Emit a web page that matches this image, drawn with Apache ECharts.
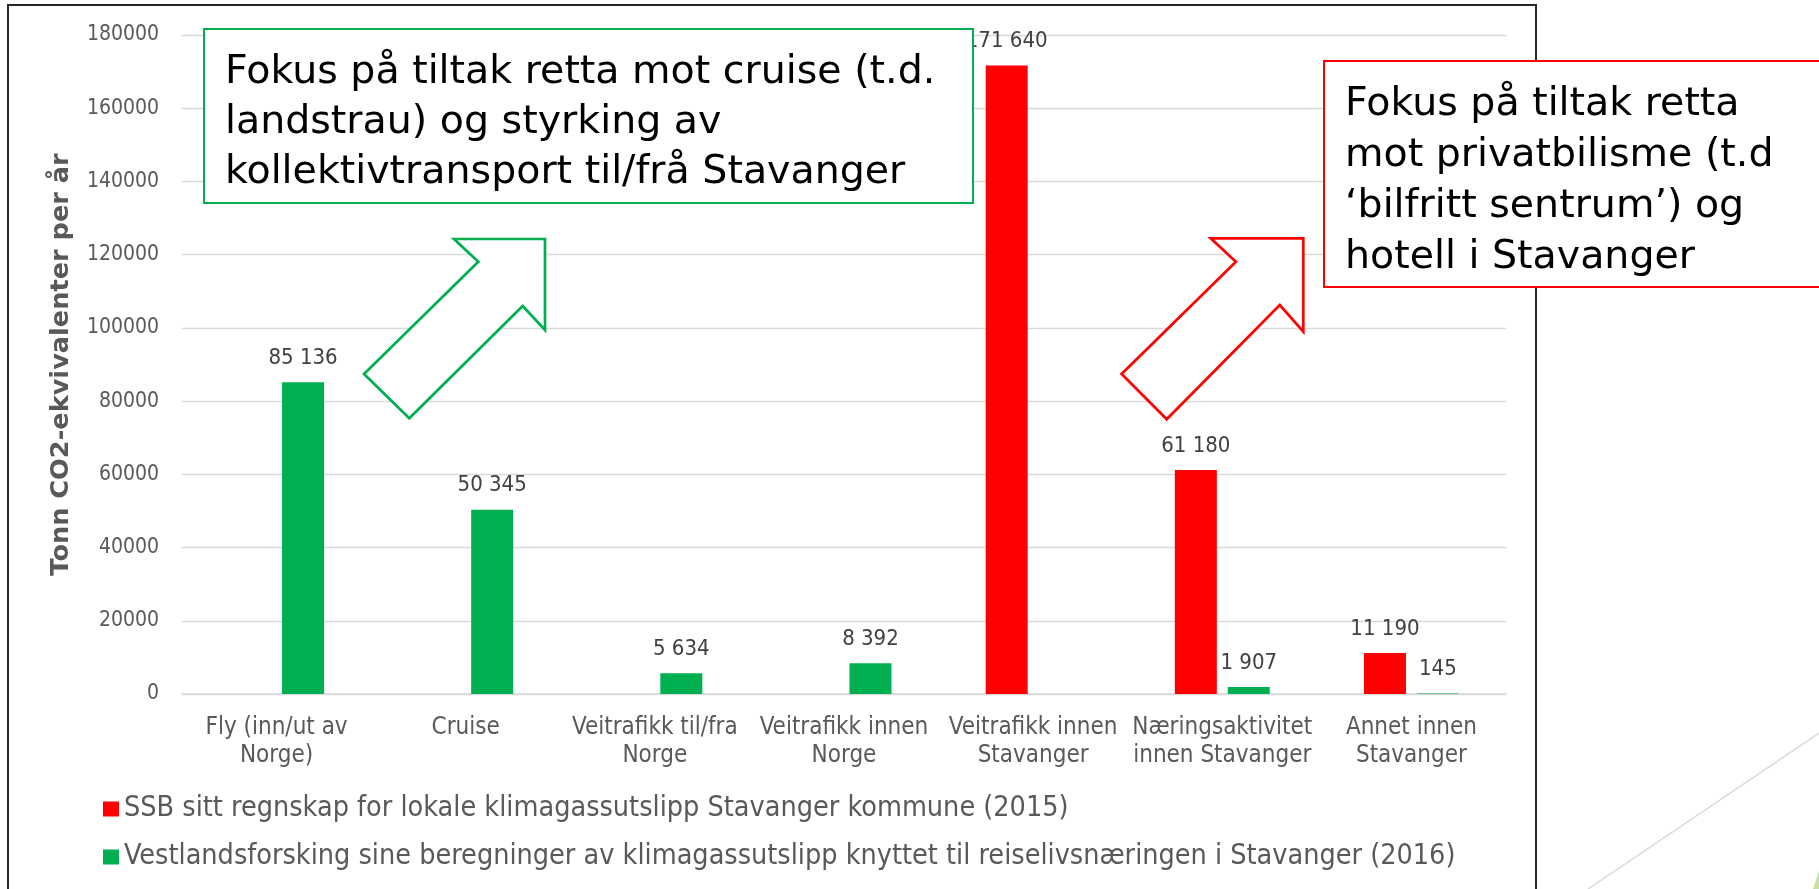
<!DOCTYPE html>
<html>
<head>
<meta charset="utf-8">
<script src="https://cdn.jsdelivr.net/npm/echarts@6/dist/echarts.min.js"></script>
<style>
  html, body { margin: 0; padding: 0; background: #fff; }
  #chart { width: 1819px; height: 889px; }
</style>
</head>
<body>
<div id="chart"></div>
<script>
// categories (line breaks as in the original axis labels)
const categories = [
  'Fly (inn/ut av\nNorge)',
  'Cruise',
  'Veitrafikk til/fra\nNorge',
  'Veitrafikk innen\nNorge',
  'Veitrafikk innen\nStavanger',
  'Næringsaktivitet\ninnen Stavanger',
  'Annet innen\nStavanger'
];
const ssbName = 'SSB sitt regnskap for lokale klimagassutslipp Stavanger kommune (2015)';
const vfName = 'Vestlandsforsking sine beregninger av klimagassutslipp knyttet til reiselivsnæringen i Stavanger (2016)';
const ssbValues = [null, null, null, null, 171640, 61180, 11190];
const vfValues = [85136, 50345, 5634, 8392, null, 1907, 145];
const yMin = 0;
const yMax = 180000;
const yStep = 20000;

const greenNote = 'Fokus på tiltak retta mot cruise (t.d.\nlandstrau) og styrking av\nkollektivtransport til/frå Stavanger';
const redNote = 'Fokus på tiltak retta\nmot privatbilisme (t.d\n‘bilfritt sentrum’) og\nhotell i Stavanger';

const FONT = '"DejaVu Sans Condensed", "DejaVu Sans", sans-serif';
const NOTE_FONT = '"DejaVu Sans", sans-serif';
const RED = '#ff0000';
const GREEN = '#00b050';

function spaced (v) {
  return String(v).replace(/\B(?=(\d{3})+(?!\d))/g, ' ');
}

const chart = echarts.init(document.getElementById('chart'));
window.addEventListener('resize', () => { chart.resize(); });

const barLabel = {
  show: true,
  position: 'top',
  distance: 13,
  color: '#404040',
  fontFamily: FONT,
  fontSize: 22,
  formatter: (p) => spaced(p.value)
};

chart.setOption({
  animation: false,
  color: [RED, GREEN],
  grid: { left: 182, right: 313, top: 35, bottom: 195 },
  legend: {
    orient: 'vertical',
    left: 98,
    top: 789,
    itemWidth: 16,
    itemHeight: 15,
    itemGap: 18,
    icon: 'rect',
    textStyle: { color: '#595959', fontFamily: FONT, fontSize: 28.5, lineHeight: 30 },
    data: [ssbName, vfName]
  },
  xAxis: {
    type: 'category',
    data: categories,
    axisTick: { show: false },
    axisLine: { show: true, lineStyle: { color: '#d9d9d9', width: 1.5 } },
    axisLabel: {
      interval: 0,
      margin: 19.5,
      color: '#595959',
      fontFamily: FONT,
      fontSize: 24,
      lineHeight: 28
    }
  },
  yAxis: {
    type: 'value',
    min: yMin,
    max: yMax,
    interval: yStep,
    name: 'Tonn CO2-ekvivalenter per år',
    nameLocation: 'middle',
    nameGap: 108,
    nameTextStyle: { color: '#595959', fontFamily: '"DejaVu Sans", sans-serif', fontWeight: 'bold', fontSize: 25.6 },
    axisLine: { show: false },
    axisTick: { show: false },
    splitLine: { lineStyle: { color: '#d9d9d9', width: 1.4 } },
    axisLabel: { margin: 23, color: '#595959', fontFamily: FONT, fontSize: 21, formatter: (v) => String(v) }
  },
  series: [
    {
      name: ssbName,
      type: 'bar',
      barWidth: 42,
      barGap: '26%',
      label: barLabel,
      data: ssbValues
    },
    {
      name: vfName,
      type: 'bar',
      barWidth: 42,
      barGap: '26%',
      label: barLabel,
      data: vfValues
    }
  ],
  graphic: [
    // slide frame
    { type: 'rect', z: 100, shape: { x: 8, y: 5, width: 1528, height: 900 },
      style: { fill: 'none', stroke: '#262626', lineWidth: 2 } },
    // slide decoration bottom right
    { type: 'line', z: 100, shape: { x1: 1588, y1: 889, x2: 1819, y2: 733 },
      style: { stroke: '#d9d9d9', lineWidth: 1.5 } },
    { type: 'polygon', z: 100, shape: { points: [[1813, 889], [1819, 871], [1819, 889]] },
      style: { fill: '#c5e0a5' } },
    // green note
    { type: 'rect', z: 101, shape: { x: 204, y: 29, width: 769, height: 174 },
      style: { fill: '#fff', stroke: GREEN, lineWidth: 2 } },
    { type: 'text', z: 102, x: 225, y: 48,
      style: { text: greenNote, fill: '#000', fontFamily: NOTE_FONT, fontSize: 39.5, lineHeight: 50, verticalAlign: 'top' } },
    { type: 'polygon', z: 101,
      shape: { points: [[364, 374], [478.3, 261.7], [454, 239], [545, 239], [545, 330], [522.7, 306], [409.3, 418.3]] },
      style: { fill: '#fff', stroke: GREEN, lineWidth: 2.7 } },
    // red note
    { type: 'rect', z: 101, shape: { x: 1324, y: 61, width: 520, height: 226 },
      style: { fill: '#fff', stroke: RED, lineWidth: 2 } },
    { type: 'text', z: 102, x: 1345, y: 79,
      style: { text: redNote, fill: '#000', fontFamily: NOTE_FONT, fontSize: 39.5, lineHeight: 51, verticalAlign: 'top' } },
    { type: 'polygon', z: 101,
      shape: { points: [[1121.6, 374], [1235.9, 261.7], [1210.7, 238.3], [1303.3, 238.3], [1303.3, 331.7], [1279.8, 305], [1166.7, 419.3]] },
      style: { fill: '#fff', stroke: RED, lineWidth: 2.7 } }
  ]
});
</script>
</body>
</html>
